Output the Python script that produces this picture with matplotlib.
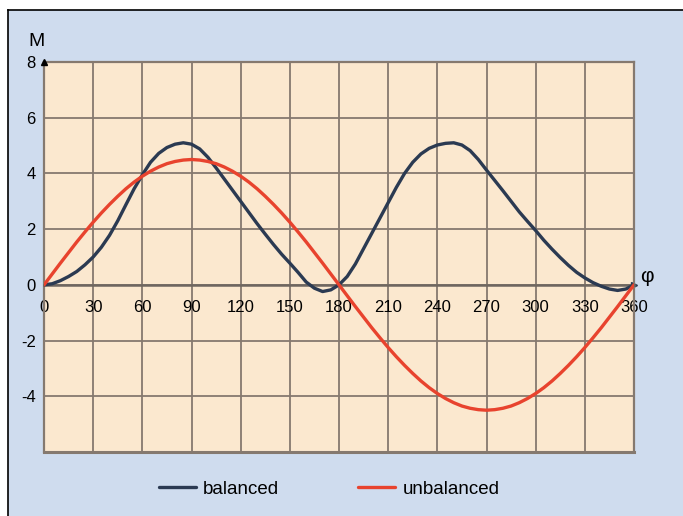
import matplotlib
matplotlib.use("Agg")
import matplotlib.pyplot as plt
from matplotlib.lines import Line2D
from matplotlib.patches import Rectangle

plt.rcParams['font.family'] = ['Liberation Sans', 'DejaVu Sans']

# ---- data ----
phi = [0, 5, 10, 15, 20, 25, 30, 35, 40, 45, 50, 55, 60, 65, 70, 75, 80, 85, 90,
       95, 100, 105, 110, 115, 120, 125, 130, 135, 140, 145, 150, 155, 160, 165, 170, 175, 180,
       185, 190, 195, 200, 205, 210, 215, 220, 225, 230, 235, 240, 245, 250, 255, 260, 265, 270,
       275, 280, 285, 290, 295, 300, 305, 310, 315, 320, 325, 330, 335, 340, 345, 350, 355, 360]
balanced = [0.0, 0.04, 0.15, 0.3, 0.48, 0.72, 1.0, 1.35, 1.78, 2.3, 2.88, 3.45, 3.95, 4.4, 4.72, 4.93, 5.05, 5.1, 5.05,
            4.88, 4.58, 4.2, 3.8, 3.4, 3.0, 2.6, 2.2, 1.82, 1.45, 1.1, 0.78, 0.45, 0.1, -0.12, -0.24, -0.18, 0.0,
            0.3, 0.75, 1.3, 1.85, 2.4, 2.95, 3.5, 4.0, 4.4, 4.7, 4.9, 5.02, 5.08, 5.1, 5.02, 4.82, 4.5, 4.12,
            3.75, 3.38, 3.0, 2.62, 2.28, 1.95, 1.6, 1.28, 0.98, 0.7, 0.45, 0.25, 0.08, -0.05, -0.15, -0.2, -0.15, 0.0]
unbalanced = [0.0, 0.39, 0.78, 1.16, 1.54, 1.9, 2.25, 2.58, 2.89, 3.18, 3.45, 3.69, 3.9, 4.08, 4.23, 4.35, 4.43, 4.48, 4.5,
              4.48, 4.43, 4.35, 4.23, 4.08, 3.9, 3.69, 3.45, 3.18, 2.89, 2.58, 2.25, 1.9, 1.54, 1.16, 0.78, 0.39, 0.0,
              -0.39, -0.78, -1.16, -1.54, -1.9, -2.25, -2.58, -2.89, -3.18, -3.45, -3.69, -3.9, -4.08, -4.23, -4.35, -4.43, -4.48, -4.5,
              -4.48, -4.43, -4.35, -4.23, -4.08, -3.9, -3.69, -3.45, -3.18, -2.89, -2.58, -2.25, -1.9, -1.54, -1.16, -0.78, -0.39, 0.0]
x_ticks = list(range(0, 361, 30))
y_ticks = [-6, -4, -2, 0, 2, 4, 6, 8]
y_tick_labels = ['', '-4', '-2', '0', '2', '4', '6', '8']
series_names = ['balanced', 'unbalanced']

W, H = 683, 516
BG = '#cfdcee'
PLOT_BG = '#fbe8cf'
GRID = '#85796f'
C_BAL = '#2b3a52'
C_UNB = '#e8432e'

fig = plt.figure(figsize=(W / 100, H / 100), dpi=100, facecolor='white')

# blue panel with black top/left border
fig.patches.append(Rectangle((8 / W, 0), 1, 1 - 10 / H, transform=fig.transFigure,
                             facecolor=BG, edgecolor='none', zorder=-10))
fig.lines.append(Line2D([8 / W, 1], [1 - 10 / H, 1 - 10 / H], transform=fig.transFigure,
                        color='black', lw=1.2))
fig.lines.append(Line2D([8 / W, 8 / W], [0, 1 - 10 / H], transform=fig.transFigure,
                        color='black', lw=1.2))

ax = fig.add_axes([44 / W, 1 - 452 / H, 590 / W, 390 / H])
ax.set_facecolor(PLOT_BG)
ax.set_xlim(0, 360)
ax.set_ylim(-6, 8)

ax.set_xticks(x_ticks)
ax.set_xticklabels([str(v) for v in x_ticks])
ax.set_yticks(y_ticks)
ax.set_yticklabels(y_tick_labels)
ax.tick_params(length=0, labelsize=12, colors='black')
ax.tick_params(axis='y', pad=6)
ax.tick_params(axis='x', pad=11)

ax.grid(True, color=GRID, lw=1.3)
ax.set_axisbelow(True)
for s in ['left', 'right', 'top']:
    ax.spines[s].set_color(GRID)
    ax.spines[s].set_linewidth(1.6)
ax.spines['bottom'].set_position(('data', 0))
ax.spines['bottom'].set_color('#6e6660')
ax.spines['bottom'].set_linewidth(1.8)
ax.axhline(-6, color=GRID, lw=2.2, clip_on=False)

l1, = ax.plot(phi, balanced, color=C_BAL, lw=2.4, label=series_names[0], zorder=3,
              solid_joinstyle='round', solid_capstyle='round')
l2, = ax.plot(phi, unbalanced, color=C_UNB, lw=2.4, label=series_names[1], zorder=4,
              solid_joinstyle='round', solid_capstyle='round')

# axis arrows
ax.plot([0], [8], marker='^', color='black', ms=5, clip_on=False, zorder=5)
ax.plot([360], [0], marker='>', color=C_BAL, ms=5, clip_on=False, zorder=2)

fig.text(37 / W, 1 - 41 / H, 'M', ha='center', va='center', fontsize=14)
fig.text(647 / W, 1 - 277 / H, 'φ', ha='center', va='center', fontsize=15)

fig.legend(handles=[l1, l2], loc='center', bbox_to_anchor=(329 / W, 1 - 489 / H),
           ncol=2, frameon=False, fontsize=13.5, handlelength=2.0, handletextpad=0.37,
           columnspacing=4.2)

fig.savefig('out.png', dpi=100, facecolor=fig.get_facecolor())
